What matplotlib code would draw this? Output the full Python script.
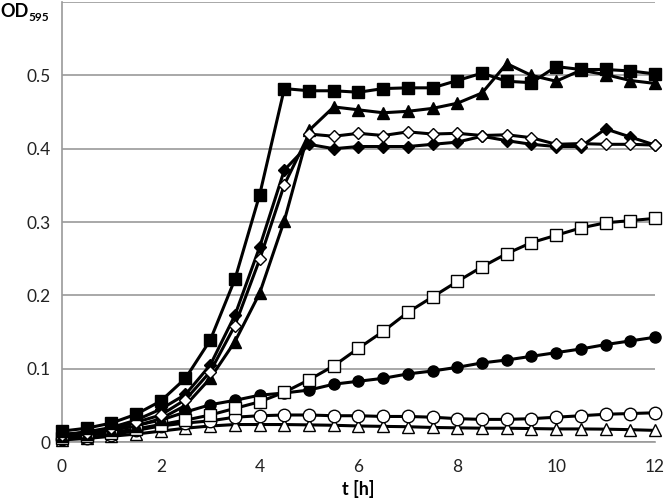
import matplotlib
matplotlib.use('Agg')
import matplotlib.pyplot as plt

# sampling times (h)
t = [i * 0.5 for i in range(25)]

# OD595 readings per culture
sq_filled = [0.015, 0.019, 0.026, 0.038, 0.056, 0.087, 0.139, 0.222, 0.337, 0.482,
             0.479, 0.479, 0.477, 0.482, 0.483, 0.483, 0.493, 0.503, 0.492, 0.490,
             0.512, 0.508, 0.508, 0.506, 0.502]
tri_filled = [0.008, 0.011, 0.016, 0.022, 0.032, 0.050, 0.087, 0.137, 0.203, 0.302,
              0.425, 0.457, 0.453, 0.449, 0.451, 0.455, 0.462, 0.476, 0.516, 0.500,
              0.492, 0.507, 0.501, 0.493, 0.489]
dia_filled = [0.010, 0.014, 0.020, 0.030, 0.045, 0.065, 0.105, 0.173, 0.266, 0.371,
              0.406, 0.400, 0.403, 0.403, 0.403, 0.406, 0.409, 0.417, 0.411, 0.406,
              0.403, 0.403, 0.427, 0.416, 0.405]
dia_open = [0.010, 0.013, 0.019, 0.027, 0.037, 0.058, 0.096, 0.159, 0.249, 0.351,
            0.420, 0.417, 0.421, 0.418, 0.423, 0.420, 0.421, 0.418, 0.419, 0.415,
            0.406, 0.407, 0.406, 0.406, 0.405]
sq_open = [0.006, 0.009, 0.013, 0.018, 0.024, 0.030, 0.037, 0.046, 0.055, 0.068,
           0.085, 0.104, 0.128, 0.151, 0.177, 0.198, 0.219, 0.239, 0.257, 0.272,
           0.282, 0.292, 0.299, 0.302, 0.305]
circ_filled = [0.010, 0.013, 0.017, 0.023, 0.030, 0.041, 0.051, 0.057, 0.064, 0.067,
               0.071, 0.079, 0.083, 0.087, 0.093, 0.097, 0.102, 0.108, 0.112, 0.117,
               0.122, 0.127, 0.133, 0.138, 0.143]
circ_open = [0.004, 0.006, 0.0095, 0.016, 0.022, 0.026, 0.029, 0.034, 0.036, 0.037,
             0.037, 0.036, 0.036, 0.035, 0.035, 0.034, 0.032, 0.031, 0.031, 0.032,
             0.034, 0.036, 0.038, 0.039, 0.040]
tri_open = [0.003, 0.005, 0.008, 0.011, 0.015, 0.019, 0.022, 0.024, 0.024, 0.024,
            0.0235, 0.023, 0.022, 0.0215, 0.021, 0.020, 0.0195, 0.019, 0.019, 0.0185,
            0.018, 0.018, 0.0177, 0.017, 0.016]

x_ticks = [0, 2, 4, 6, 8, 10, 12]
y_ticks = [0, 0.1, 0.2, 0.3, 0.4, 0.5]
y_tick_labels = ['0', '0.1', '0.2', '0.3', '0.4', '0.5']

plt.rcParams['font.family'] = ['Lato', 'DejaVu Sans']

fig = plt.figure(figsize=(6.66, 5.03), dpi=100)
ax = fig.add_axes([0.093, 0.121, 0.8905, 0.875])

series = [
    (tri_open, '^', 'white', 8),
    (circ_open, 'o', 'white', 9),
    (circ_filled, 'o', 'black', 8),
    (sq_open, 's', 'white', 8),
    (tri_filled, '^', 'black', 8),
    (dia_filled, 'D', 'black', 6),
    (dia_open, 'D', 'white', 6),
    (sq_filled, 's', 'black', 8),
]
for vals, m, fc, ms in series:
    ax.plot(t, vals, color='black', lw=2.2, marker=m, markersize=ms,
            markerfacecolor=fc, markeredgecolor='black', markeredgewidth=1.0,
            clip_on=False, zorder=3)

ax.set_xlim(0, 12)
ax.set_ylim(0, 0.6)
ax.set_xticks(x_ticks)
ax.set_yticks(y_ticks + [0.6])
ax.set_yticklabels(y_tick_labels + [''])
ax.yaxis.grid(True, color='#9a9a9a', lw=1.2)
ax.set_axisbelow(True)
for s in ['top', 'right']:
    ax.spines[s].set_visible(False)
for s in ['left', 'bottom']:
    ax.spines[s].set_color('#9a9a9a')
    ax.spines[s].set_linewidth(1.2)
ax.tick_params(length=0, labelsize=12.5, pad=8, colors='#222222')
ax.tick_params(axis='x', pad=12)

ax.set_xlabel('t [h]', fontsize=13, fontweight='bold', labelpad=4)
fig.text(0.0, 0.967, 'OD', fontsize=13, fontweight='bold', ha='left', va='baseline')
fig.text(0.043, 0.959, '595', fontsize=8.5, fontweight='bold', ha='left', va='baseline')

fig.savefig('out.png', dpi=100)
